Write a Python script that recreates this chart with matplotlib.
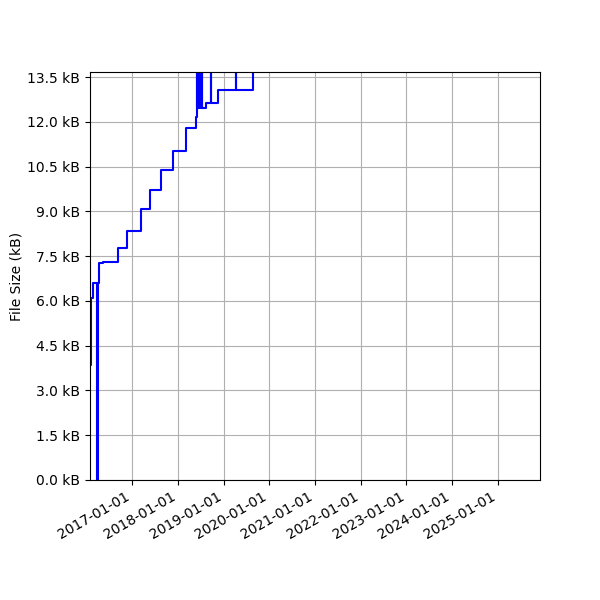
import datetime as dt

import numpy as np
import matplotlib
matplotlib.use("Agg")
import matplotlib.pyplot as plt
import matplotlib.dates as mdates
from matplotlib.ticker import MultipleLocator, FuncFormatter

# commit dates and file size in bytes (values above the top are clipped)
dates = [
    "2015-12-20", "2016-02-07", "2016-02-23", "2016-03-26", "2016-04-02",
    "2016-04-09", "2016-05-11", "2016-09-08", "2016-11-22", "2017-03-14",
    "2017-05-25", "2017-08-21", "2017-11-21", "2018-03-09", "2018-05-24",
    "2018-06-01", "2018-06-04", "2018-06-07", "2018-06-10", "2018-06-13",
    "2018-06-16", "2018-06-19", "2018-06-22", "2018-06-25", "2018-06-28",
    "2018-07-01", "2018-07-04", "2018-07-07", "2018-07-10", "2018-07-14",
    "2018-08-15", "2018-09-24", "2018-09-26", "2018-11-16", "2019-04-07",
    "2019-04-09", "2019-08-28", "2025-06-20",
]
sizes = [
    3850, 6100, 6600, 0, 6600,
    7270, 7310, 7760, 8350, 9090,
    9700, 10380, 11020, 11810, 12150,
    12450, 14500, 12450, 14500, 12450,
    14500, 12450, 14500, 12450, 14500,
    12450, 14500, 12450, 14500, 12450,
    12640, 14500, 12640, 13060, 14500,
    13060, 14500, 14500,
]

x_start = "2016-01-30"
x_end = "2025-12-04"
y_top = 13670

def kb_fmt(v, pos):
    return "%.1f kB" % (v / 1000)

def main():
    x = [dt.datetime.strptime(d, "%Y-%m-%d") for d in dates]
    y = np.array(sizes)

    fig, ax = plt.subplots(figsize=(6, 6), dpi=100)
    fig.subplots_adjust(left=0.15, right=0.9, top=0.88)
    ax.step(x, y, where="post", color="b", linewidth=1.5)

    ax.set_xlim(dt.datetime.strptime(x_start, "%Y-%m-%d"),
                dt.datetime.strptime(x_end, "%Y-%m-%d"))
    ax.set_ylim(0, y_top)
    ax.yaxis.set_major_locator(MultipleLocator(1500))
    ax.yaxis.set_major_formatter(FuncFormatter(kb_fmt))
    ax.xaxis.set_major_locator(mdates.YearLocator())
    ax.xaxis.set_major_formatter(mdates.DateFormatter("%Y-%m-%d"))
    ax.set_ylabel("File Size (kB)", labelpad=2.5)
    ax.grid(True)
    fig.autofmt_xdate()

    fig.savefig("out.png")

main()
